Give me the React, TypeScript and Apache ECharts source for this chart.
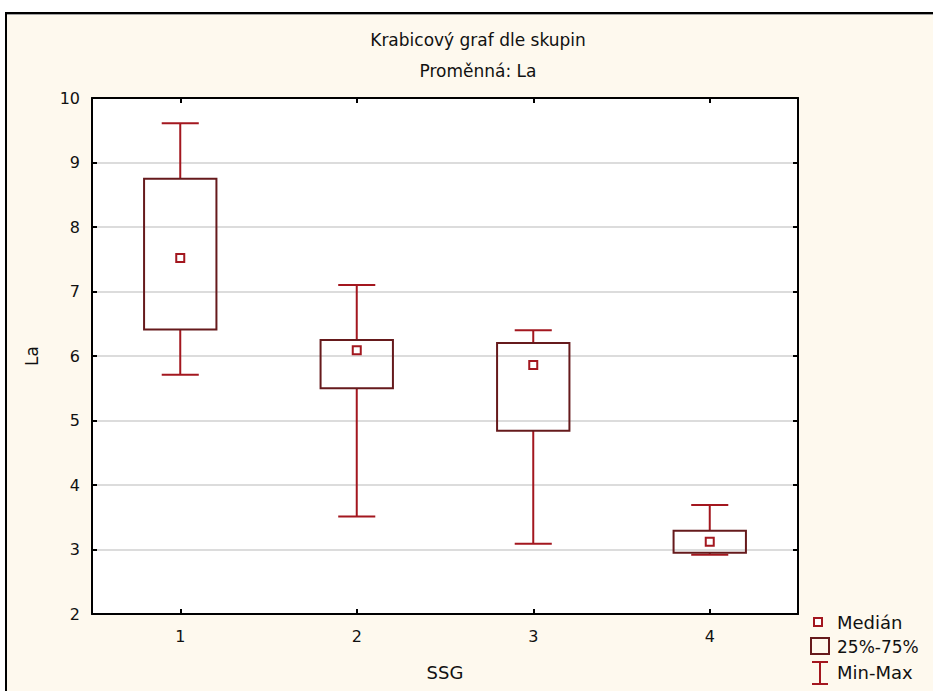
import React, { useEffect, useRef } from "react";
import * as echarts from "echarts";

const categories = ["1", "2", "3", "4"];
const minValues = [5.71, 3.51, 3.09, 2.92];
const q1Values = [6.41, 5.5, 4.84, 2.95];
const medianValues = [7.52, 6.09, 5.86, 3.12];
const q3Values = [8.75, 6.25, 6.2, 3.29];
const maxValues = [9.61, 7.1, 6.4, 3.69];
const yTicks = { min: 2, max: 10, interval: 1 };

const BOX_COLOR = "#661a1c";
const WHISKER_COLOR = "#a3171f";
const FONT = "DejaVu Sans";
const CREAM = "#fef9ee";

export default function App() {
  const ref = useRef<HTMLDivElement>(null);

  useEffect(() => {
    if (!ref.current) return;
    const chart = echarts.init(ref.current, null, { renderer: "svg" });

    const data = categories.map((_, i) => [
      i,
      minValues[i],
      q1Values[i],
      medianValues[i],
      q3Values[i],
      maxValues[i],
    ]);

    const renderItem = (params: any, api: any) => {
      const idx = api.value(0);
      const vMin = api.value(1);
      const vQ1 = api.value(2);
      const vMed = api.value(3);
      const vQ3 = api.value(4);
      const vMax = api.value(5);
      const band = api.size([1, 0])[0];
      const boxW = band * 0.41;
      const capW = band * 0.21;
      const pMin = api.coord([idx, vMin]);
      const pQ1 = api.coord([idx, vQ1]);
      const pMed = api.coord([idx, vMed]);
      const pQ3 = api.coord([idx, vQ3]);
      const pMax = api.coord([idx, vMax]);
      const cx = pMin[0];
      const wStyle = { stroke: WHISKER_COLOR, lineWidth: 2, fill: "none" };
      return {
        type: "group",
        children: [
          { type: "line", shape: { x1: cx, y1: pMax[1], x2: cx, y2: pQ3[1] }, style: wStyle },
          { type: "line", shape: { x1: cx, y1: pQ1[1], x2: cx, y2: pMin[1] }, style: wStyle },
          { type: "line", shape: { x1: cx - capW / 2, y1: pMax[1], x2: cx + capW / 2, y2: pMax[1] }, style: wStyle },
          { type: "line", shape: { x1: cx - capW / 2, y1: pMin[1], x2: cx + capW / 2, y2: pMin[1] }, style: wStyle },
          {
            type: "rect",
            shape: { x: cx - boxW / 2, y: pQ3[1], width: boxW, height: pQ1[1] - pQ3[1] },
            style: { stroke: BOX_COLOR, lineWidth: 2, fill: "rgba(255,255,255,0)" },
          },
          {
            type: "rect",
            shape: { x: cx - 4, y: pMed[1] - 4, width: 8, height: 8 },
            style: { stroke: WHISKER_COLOR, lineWidth: 2, fill: "#ffffff" },
          },
        ],
      };
    };

    const textStyle = (size: number) => ({
      fontFamily: FONT,
      fontSize: size,
      color: "#111",
    });

    chart.setOption({
      animation: false,
      backgroundColor: CREAM,
      title: [
        {
          text: "Krabicový graf dle skupin",
          left: 478,
          top: 31,
          textAlign: "center",
          padding: 0,
          textStyle: { ...textStyle(17), fontWeight: "normal" },
        },
        {
          text: "Proměnná: La",
          left: 478,
          top: 62,
          textAlign: "center",
          padding: 0,
          textStyle: { ...textStyle(17), fontWeight: "normal" },
        },
      ],
      grid: {
        left: 92,
        right: 135,
        top: 98,
        bottom: 77,
        show: true,
        backgroundColor: "#ffffff",
        borderWidth: 0,
      },
      xAxis: [
        {
          type: "category",
          data: categories,
          position: "bottom",
          boundaryGap: true,
          name: "SSG",
          nameLocation: "middle",
          nameGap: 49,
          nameTextStyle: textStyle(18),
          axisLine: { show: true, lineStyle: { color: "#000", width: 2 } },
          axisTick: { show: true, inside: true, alignWithLabel: true, length: 5, lineStyle: { color: "#000", width: 2 } },
          axisLabel: { margin: 14, ...textStyle(16) },
          splitLine: { show: false },
        },
        {
          type: "category",
          data: categories,
          position: "top",
          boundaryGap: true,
          axisLine: { show: true, lineStyle: { color: "#000", width: 2 } },
          axisTick: { show: true, inside: true, alignWithLabel: true, length: 5, lineStyle: { color: "#000", width: 2 } },
          axisLabel: { show: false },
          splitLine: { show: false },
        },
      ],
      yAxis: [
        {
          type: "value",
          position: "left",
          min: yTicks.min,
          max: yTicks.max,
          interval: yTicks.interval,
          name: "La",
          nameLocation: "middle",
          nameGap: 52,
          nameRotate: 90,
          nameTextStyle: textStyle(17),
          axisLine: { show: true, lineStyle: { color: "#000", width: 2 } },
          axisTick: { show: true, inside: true, length: 5, lineStyle: { color: "#000", width: 2 } },
          axisLabel: { margin: 12, ...textStyle(16) },
          splitLine: { show: true, lineStyle: { color: "#dcdcdc", width: 2 } },
        },
        {
          type: "value",
          position: "right",
          min: yTicks.min,
          max: yTicks.max,
          interval: yTicks.interval,
          axisLine: { show: true, lineStyle: { color: "#000", width: 2 } },
          axisTick: { show: true, inside: true, length: 5, lineStyle: { color: "#000", width: 2 } },
          axisLabel: { show: false },
          splitLine: { show: false },
        },
      ],
      series: [
        {
          type: "custom",
          name: "La",
          renderItem,
          xAxisIndex: 0,
          yAxisIndex: 0,
          encode: { x: 0, y: [1, 2, 3, 4, 5] },
          data,
          z: 10,
        },
      ],
      graphic: [
        // white margin outside the window frame
        { type: "rect", shape: { x: 0, y: 0, width: 933, height: 12 }, style: { fill: "#ffffff" }, silent: true },
        { type: "rect", shape: { x: 0, y: 0, width: 5, height: 691 }, style: { fill: "#ffffff" }, silent: true },
        { type: "line", shape: { x1: 5, y1: 13, x2: 933, y2: 13 }, style: { stroke: "#000", lineWidth: 2 }, silent: true },
        { type: "line", shape: { x1: 6, y1: 12, x2: 6, y2: 691 }, style: { stroke: "#000", lineWidth: 2 }, silent: true },
        { type: "line", shape: { x1: 7, y1: 14.5, x2: 933, y2: 14.5 }, style: { stroke: "#a0a0a0", lineWidth: 1 }, silent: true },
        // legend
        {
          type: "rect",
          shape: { x: 814, y: 618, width: 8, height: 8 },
          style: { stroke: WHISKER_COLOR, lineWidth: 2, fill: "#ffffff" },
        },
        {
          type: "rect",
          shape: { x: 811, y: 638, width: 18, height: 16 },
          style: { stroke: BOX_COLOR, lineWidth: 2, fill: "rgba(255,255,255,0)" },
        },
        { type: "line", shape: { x1: 812, y1: 662, x2: 828, y2: 662 }, style: { stroke: WHISKER_COLOR, lineWidth: 2 } },
        { type: "line", shape: { x1: 820, y1: 662, x2: 820, y2: 684 }, style: { stroke: WHISKER_COLOR, lineWidth: 2 } },
        { type: "line", shape: { x1: 812, y1: 684, x2: 828, y2: 684 }, style: { stroke: WHISKER_COLOR, lineWidth: 2 } },
        {
          type: "text",
          x: 837,
          y: 622,
          style: { text: "Medián", font: `18px '${FONT}'`, fill: "#111", textAlign: "left", textVerticalAlign: "middle", verticalAlign: "middle" },
        },
        {
          type: "text",
          x: 837,
          y: 647,
          style: { text: "25%-75%", font: `17px '${FONT}'`, fill: "#111", textAlign: "left", textVerticalAlign: "middle", verticalAlign: "middle" },
        },
        {
          type: "text",
          x: 837,
          y: 672,
          style: { text: "Min-Max", font: `18px '${FONT}'`, fill: "#111", textAlign: "left", textVerticalAlign: "middle", verticalAlign: "middle" },
        },
      ],
    });

    return () => chart.dispose();
  }, []);

  return (
    <div
      ref={ref}
      style={{ position: "absolute", left: 0, top: 0, width: 933, height: 691 }}
    />
  );
}
